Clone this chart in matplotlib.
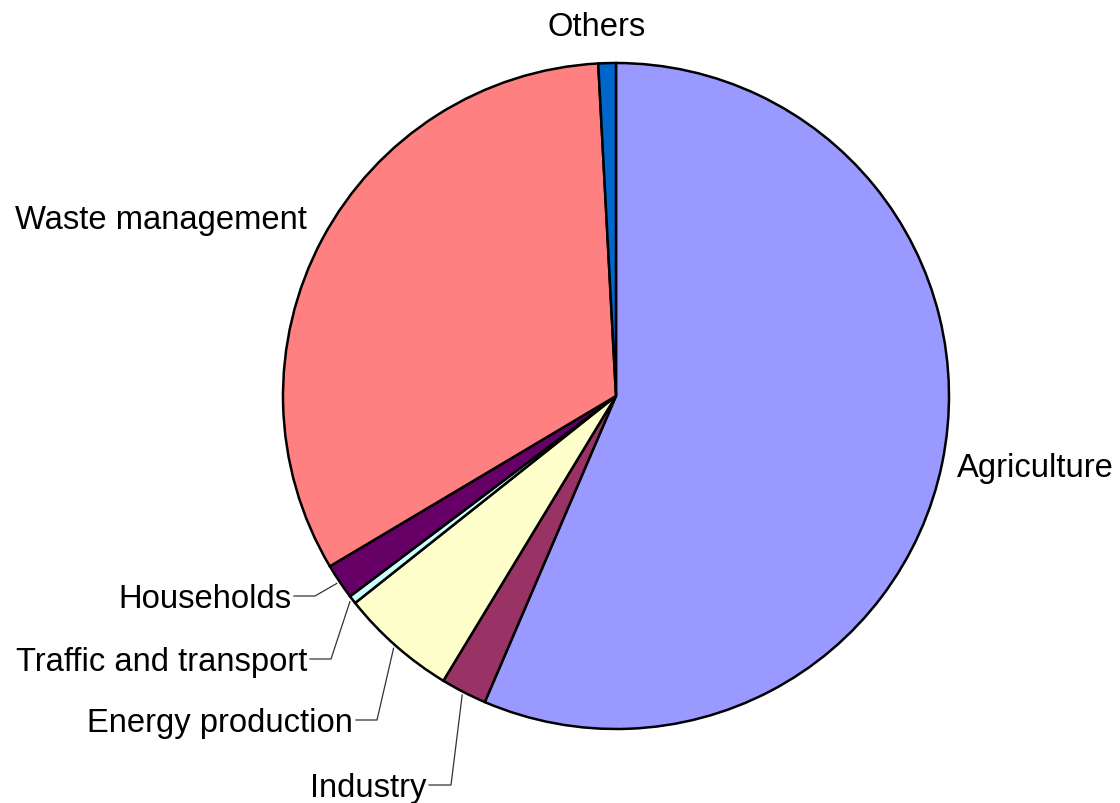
import numpy as np
import matplotlib.pyplot as plt

plt.rcParams['font.family'] = ['Liberation Sans', 'DejaVu Sans']

# Anteile (%) im Uhrzeigersinn ab 12 Uhr
sectors = ['Agriculture', 'Industry', 'Energy production', 'Traffic and transport',
           'Households', 'Waste management', 'Others']
shares = [56.44, 2.23, 5.65, 0.40, 1.73, 32.69, 0.85]
colors = ['#9999FF', '#993366', '#FFFFCC', '#CCFFFF', '#660066', '#FF8080', '#0066CC']

W, H = 1120, 804
cx, cy, R = 616, 397, 333  # Pixelkoordinaten (y nach unten)

fig = plt.figure(figsize=(W / 100, H / 100), dpi=100)
ax = fig.add_axes([0, 0, 1, 1])

wedges, _ = ax.pie(shares, colors=colors, startangle=90, counterclock=False,
                   center=(cx, H - cy), radius=R, frame=False,
                   wedgeprops=dict(edgecolor='black', linewidth=1.8))
ax.set_xlim(0, W)
ax.set_ylim(0, H)
ax.set_aspect('equal')
ax.axis('off')

fs = 23.6
dy = 3  # Textmitte etwas tiefer
# Beschriftungen direkt neben dem Kreis
ax.text(597, H - 25 - dy, 'Others', fontsize=fs, ha='center', va='center')
ax.text(307, H - 218 - dy, 'Waste management', fontsize=fs, ha='right', va='center')
ax.text(957, H - 466 - dy, 'Agriculture', fontsize=fs, ha='left', va='center')

# Beschriftungen mit Führungslinien
labels_leader = {
    'Households': ((291, 597), (315, 597)),
    'Traffic and transport': ((307, 660), (331, 660)),
    'Energy production': ((353, 721), (377, 721)),
    'Industry': ((426, 786), (451, 786)),
}
for w, name in zip(wedges, sectors):
    if name not in labels_leader:
        continue
    (tx, ty), (ex, ey) = labels_leader[name]
    ang = np.deg2rad((w.theta1 + w.theta2) / 2)
    px = cx + 1.01 * R * np.cos(ang)
    py = H - cy + 1.01 * R * np.sin(ang)
    ax.text(tx, H - ty - dy, name, fontsize=fs, ha='right', va='center')
    ax.plot([tx + 3, ex, px], [H - ty, H - ey, py], color='#333333', linewidth=0.9)

fig.savefig('out.png', dpi=100)
